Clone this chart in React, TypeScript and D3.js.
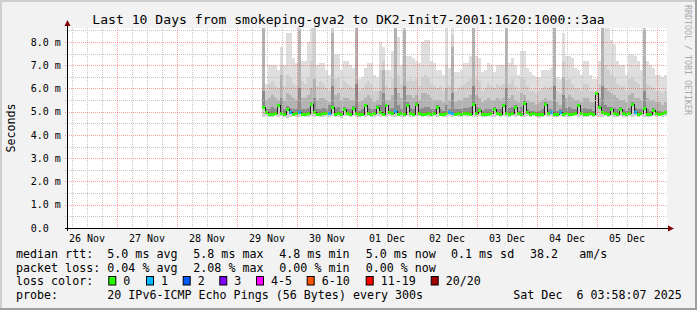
import React from "react";
import * as d3 from "d3";

const W = 697;
const H = 310;
const PL = 67;
const PR = 667;
const PT = 28;
const PB = 228;
const Y_MAX = 8.6;

const END = Date.UTC(2025, 11, 6, 3, 58, 7);
const START = END - 10 * 86400000;
const DATA_START = Date.UTC(2025, 10, 29, 9, 58, 7);
const STEP_MIN = 72;

const TITLE = "Last 10 Days from smokeping-gva2 to DK2-Init7-2001:1620:1000::3aa";

// median rtt per 72-minute bucket (ms)
const medianMs = [
  5.20, 4.95, 4.88, 4.90, 4.93, 5.25, 4.92, 4.88, 5.10, 4.95, 4.90, 4.92, 4.97, 4.90, 4.88,
  4.92, 5.30, 4.95, 4.90, 4.88, 4.93, 4.91, 4.93, 5.20, 4.89, 4.92, 4.87, 5.10, 4.93, 4.90,
  5.15, 4.92, 4.88, 4.90, 5.25, 4.94, 4.90, 4.92, 5.20, 4.96, 4.90, 5.25, 4.97, 4.91, 5.00,
  4.88, 4.92, 4.90, 5.28, 4.94, 4.90, 5.30, 4.93, 4.88, 4.90, 4.92, 4.89, 4.93, 5.20, 4.90,
  4.88, 4.91, 4.95, 4.93, 4.90, 4.92, 4.89, 4.91, 4.93, 4.90, 5.30, 4.92, 5.05, 4.90, 4.87,
  4.90, 4.93, 5.10, 4.92, 4.88, 5.28, 4.93, 4.90, 4.92, 5.20, 4.91, 4.89, 5.35, 4.95, 4.90,
  4.93, 4.90, 4.86, 4.88, 5.30, 4.93, 4.96, 4.90, 4.88, 4.95, 4.90, 4.92, 4.88, 4.90, 4.93,
  5.25, 4.92, 4.90, 4.88, 4.91, 4.89, 5.77, 5.20, 4.95, 4.92, 4.90, 5.10, 4.93, 4.90, 5.10,
  4.92, 4.88, 4.91, 5.30, 4.96, 4.90, 4.92, 5.15, 4.90, 4.88, 5.05, 4.92, 4.90, 4.93, 4.96,
];

// lost pings (of 20) per bucket
const lossPings = [
  0, 0, 0, 0, 0, 0, 0, 0, 0, 1, 0, 0, 1, 0, 0,
  0, 0, 0, 0, 0, 0, 0, 1, 0, 0, 0, 0, 0, 0, 0,
  0, 0, 0, 0, 0, 0, 0, 0, 0, 0, 0, 0, 0, 0, 1,
  0, 0, 0, 0, 0, 0, 0, 0, 0, 0, 0, 0, 0, 0, 0,
  0, 0, 1, 1, 0, 0, 0, 0, 0, 0, 0, 0, 0, 0, 0,
  0, 0, 0, 0, 0, 0, 0, 0, 0, 0, 0, 0, 0, 0, 0,
  0, 0, 0, 0, 0, 0, 1, 0, 0, 1, 0, 0, 0, 0, 0,
  0, 0, 0, 0, 0, 0, 0, 0, 0, 0, 0, 0, 0, 0, 0,
  0, 0, 0, 0, 1, 0, 0, 0, 0, 0, 0, 0, 0, 0, 0,
];

// slowest ping per bucket (ms)
const maxMs = [
  8.6, 6.2, 7.0, 7.0, 7.0, 6.8, 7.8, 7.0, 8.4, 8.4, 7.3, 7.1, 8.6, 7.2, 7.2,
  8.0, 8.7, 8.7, 7.0, 7.1, 7.1, 6.8, 6.6, 8.6, 7.5, 7.5, 6.8, 7.2, 7.2, 7.0,
  6.9, 8.6, 6.4, 6.5, 6.9, 7.1, 7.1, 6.6, 6.5, 8.0, 7.8, 6.8, 6.8, 7.6, 8.6,
  8.2, 7.0, 8.6, 7.4, 7.4, 7.3, 7.2, 7.1, 8.0, 8.1, 8.1, 7.2, 7.1, 6.8, 6.8,
  6.6, 8.7, 6.9, 8.6, 6.7, 6.7, 6.8, 7.1, 7.1, 7.4, 8.6, 7.4, 7.3, 6.7, 6.8,
  7.1, 7.0, 6.7, 7.0, 7.0, 7.0, 8.6, 7.1, 7.3, 7.0, 6.6, 7.6, 7.6, 6.9, 6.7,
  6.6, 6.5, 6.5, 6.8, 6.8, 6.8, 6.9, 8.6, 6.5, 6.4, 8.4, 7.4, 7.4, 7.3, 6.9,
  6.8, 6.6, 7.2, 7.2, 6.6, 6.4, 6.4, 7.2, 8.6, 8.7, 8.7, 8.1, 7.9, 7.2, 7.0,
  7.0, 6.6, 7.5, 7.5, 7.4, 7.2, 6.8, 8.6, 7.2, 7.0, 6.9, 6.6, 6.6, 6.5, 6.6,
];

// 19th of 20 pings
const p95Ms = [
  8.6, 5.9, 6.2, 6.3, 6.1, 6.0, 7.0, 6.1, 6.6, 6.5, 6.2, 6.1, 8.6, 6.3, 6.2,
  6.5, 7.2, 8.6, 6.1, 6.3, 6.2, 6.0, 5.9, 8.6, 6.4, 6.5, 6.0, 6.3, 6.2, 6.1,
  6.0, 8.6, 5.9, 6.0, 6.2, 6.3, 6.2, 5.9, 5.9, 6.8, 7.2, 6.1, 6.0, 6.4, 8.6,
  6.6, 6.2, 8.6, 6.3, 6.4, 6.3, 6.4, 6.1, 6.5, 6.6, 6.5, 6.2, 6.1, 6.0, 6.1,
  5.9, 7.0, 6.1, 8.3, 5.9, 6.0, 6.1, 6.2, 6.3, 6.4, 8.6, 6.4, 6.3, 5.9, 6.0,
  6.2, 6.1, 6.0, 6.2, 6.1, 6.2, 8.6, 6.2, 6.4, 6.1, 5.9, 6.5, 6.4, 6.1, 5.9,
  5.9, 5.8, 5.9, 6.0, 6.1, 6.0, 6.1, 8.6, 5.9, 5.8, 7.2, 6.3, 6.4, 6.2, 6.0,
  6.0, 5.9, 6.2, 6.2, 5.9, 5.9, 5.9, 6.2, 8.6, 7.0, 6.8, 6.6, 6.5, 6.2, 6.1,
  6.1, 5.9, 6.4, 6.5, 6.3, 6.2, 6.0, 8.6, 6.2, 6.1, 6.0, 5.9, 5.9, 5.8, 5.9,
];

// 17th of 20 pings
const p85Ms = [
  8.6, 5.5, 5.6, 5.7, 5.6, 5.5, 6.6, 5.5, 5.8, 5.7, 5.6, 5.5, 8.5, 5.6, 5.6,
  5.7, 6.0, 6.4, 5.5, 5.6, 5.6, 5.5, 5.4, 8.4, 5.7, 5.8, 5.5, 5.6, 5.6, 5.5,
  5.5, 8.6, 5.4, 5.5, 5.6, 5.7, 5.6, 5.4, 5.5, 5.9, 6.8, 5.5, 5.5, 5.7, 8.6,
  5.8, 5.6, 8.5, 5.7, 5.7, 5.6, 5.7, 5.5, 5.8, 5.8, 5.7, 5.6, 5.5, 5.5, 5.5,
  5.4, 6.0, 5.5, 7.8, 5.4, 5.5, 5.5, 5.6, 5.6, 5.7, 8.6, 5.7, 5.6, 5.4, 5.5,
  5.6, 5.5, 5.5, 5.6, 5.5, 5.6, 8.6, 5.6, 5.7, 5.5, 5.4, 5.8, 5.7, 5.5, 5.4,
  5.4, 5.3, 5.4, 5.5, 5.6, 5.5, 5.5, 8.6, 5.4, 5.3, 6.5, 5.6, 5.7, 5.6, 5.5,
  5.5, 5.4, 5.6, 5.6, 5.4, 5.4, 5.8, 5.6, 8.6, 6.0, 5.9, 5.8, 5.7, 5.6, 5.5,
  5.5, 5.4, 5.7, 5.8, 5.6, 5.6, 5.5, 8.5, 5.6, 5.5, 5.5, 5.4, 5.4, 5.3, 5.4,
];

// 14th of 20 pings
const p70Ms = [
  5.9, 5.1, 5.1, 5.2, 5.1, 5.35, 5.6, 5.1, 5.25, 5.15, 5.1, 5.1, 6.0, 5.1, 5.1,
  5.15, 5.4, 5.6, 5.1, 5.1, 5.15, 5.1, 5.3, 6.1, 5.15, 5.2, 5.05, 5.2, 5.1, 5.1,
  5.25, 6.2, 5.05, 5.1, 5.35, 5.15, 5.1, 5.1, 5.3, 5.3, 5.8, 5.35, 5.1, 5.15, 6.0,
  5.3, 5.1, 6.1, 5.4, 5.15, 5.1, 5.4, 5.1, 5.15, 5.2, 5.2, 5.1, 5.1, 5.3, 5.1,
  5.05, 5.3, 5.1, 5.8, 5.1, 5.1, 5.1, 5.15, 5.15, 5.2, 6.1, 5.2, 5.15, 5.05, 5.1,
  5.1, 5.1, 5.2, 5.1, 5.1, 5.35, 6.0, 5.15, 5.2, 5.3, 5.05, 5.2, 5.45, 5.1, 5.05,
  5.05, 5.0, 5.05, 5.1, 5.4, 5.1, 5.1, 6.1, 5.05, 5.1, 5.7, 5.15, 5.2, 5.1, 5.1,
  5.35, 5.1, 5.15, 5.1, 5.1, 5.05, 5.8, 5.3, 6.1, 5.3, 5.2, 5.2, 5.15, 5.1, 5.2,
  5.1, 5.05, 5.15, 5.4, 5.15, 5.1, 5.1, 5.9, 5.1, 5.05, 5.15, 5.05, 5.05, 5.0, 5.05,
];

// fastest ping per bucket
const minMs = [
  4.78, 4.80, 4.76, 4.79, 4.81, 4.77, 4.80, 4.78, 4.75, 4.79, 4.80, 4.77, 4.79, 4.81, 4.76,
  4.79, 4.82, 4.78, 4.80, 4.76, 4.79, 4.81, 4.78, 4.80, 4.77, 4.79, 4.75, 4.80, 4.82, 4.78,
  4.80, 4.77, 4.79, 4.81, 4.78, 4.80, 4.76, 4.79, 4.82, 4.77, 4.80, 4.78, 4.81, 4.79, 4.77,
  4.80, 4.78, 4.76, 4.81, 4.79, 4.77, 4.80, 4.82, 4.78, 4.80, 4.76, 4.79, 4.81, 4.78, 4.80,
  4.77, 4.79, 4.81, 4.78, 4.80, 4.76, 4.79, 4.82, 4.78, 4.80, 4.77, 4.79, 4.81, 4.76, 4.78,
  4.80, 4.79, 4.77, 4.81, 4.78, 4.80, 4.76, 4.79, 4.82, 4.78, 4.80, 4.77, 4.79, 4.81, 4.78,
  4.80, 4.77, 4.75, 4.78, 4.80, 4.79, 4.81, 4.77, 4.78, 4.80, 4.76, 4.79, 4.77, 4.80, 4.81,
  4.78, 4.80, 4.77, 4.79, 4.81, 4.76, 4.80, 4.78, 4.79, 4.81, 4.77, 4.80, 4.78, 4.79, 4.81,
  4.78, 4.76, 4.80, 4.79, 4.81, 4.77, 4.80, 4.78, 4.79, 4.76, 4.80, 4.78, 4.81, 4.79, 4.80,
];

const yMajorTicks = [1, 2, 3, 4, 5, 6, 7, 8];
const yMinorTicks = [0.5, 1.5, 2.5, 3.5, 4.5, 5.5, 6.5, 7.5, 8.5];
const yTickValues = [0, 1, 2, 3, 4, 5, 6, 7, 8];
const yTickLabels = ["0.0", "1.0 m", "2.0 m", "3.0 m", "4.0 m", "5.0 m", "6.0 m", "7.0 m", "8.0 m"];
const dayLabels = ["26 Nov", "27 Nov", "28 Nov", "29 Nov", "30 Nov", "01 Dec", "02 Dec", "03 Dec", "04 Dec", "05 Dec"];

const lossLegendLabels = ["0", "1", "2", "3", "4-5", "6-10", "11-19", "20/20"];
const lossLegendColors = ["#26ff00", "#00b8ff", "#0059ff", "#7e00ff", "#ff00ff", "#ff5500", "#ff0000", "#a10000"];

const rttStats = ["5.0 ms avg", "5.8 ms max", "4.8 ms min", "5.0 ms now", "0.1 ms sd", "38.2", "am/s"];
const lossStats = ["0.04 % avg", "2.08 % max", "0.00 % min", "0.00 % now"];

const MONO = "'DejaVu Sans Mono', monospace";
const PRE = { whiteSpace: "pre" as const };

function lossColor(n: number) {
  if (n <= 0) return lossLegendColors[0];
  if (n === 1) return lossLegendColors[1];
  if (n === 2) return lossLegendColors[2];
  if (n === 3) return lossLegendColors[3];
  if (n <= 5) return lossLegendColors[4];
  if (n <= 10) return lossLegendColors[5];
  if (n <= 19) return lossLegendColors[6];
  return lossLegendColors[7];
}

export default function App() {
  const x = d3.scaleUtc().domain([START, END]).range([PL, PR]);
  const y = d3.scaleLinear().domain([0, Y_MAX]).range([PB, PT]);
  const stepMs = STEP_MIN * 60000;

  const buckets = medianMs.map((m, i) => {
    const t0 = DATA_START + i * stepMs;
    return {
      t0,
      x0: x(t0),
      x1: x(t0 + stepMs),
      median: m,
      loss: lossPings[i],
      max: maxMs[i],
      p95: p95Ms[i],
      p85: p85Ms[i],
      p70: p70Ms[i],
      min: minMs[i],
    };
  });

  const layers = [
    { lo: (b: any) => b.min, hi: (b: any) => b.max, color: "#dedede" },
    { lo: (b: any) => b.min, hi: (b: any) => b.p95, color: "#cfcfcf" },
    { lo: (b: any) => b.median, hi: (b: any) => b.p85, color: "#b3b3b3" },
    { lo: (b: any) => b.median, hi: (b: any) => b.p70, color: "#8c8c8c" },
  ];

  const linePts: [number, number][] = buckets.map((b) => [b.t0, b.median]);
  const last = buckets[buckets.length - 1];
  linePts.push([last.t0 + stepMs, last.median]);
  const medianLine = d3
    .line<[number, number]>()
    .x((d) => x(d[0]))
    .y((d) => y(d[1]))
    .curve(d3.curveStepAfter)(linePts) as string;

  const midnights = d3.utcDay.range(new Date(START), new Date(END));
  const sixHours = d3.utcHour
    .every(6)!
    .range(new Date(START), new Date(END))
    .filter((d) => d.getUTCHours() !== 0);
  const noons = d3.utcDay
    .range(new Date(START - 86400000), new Date(END))
    .map((d) => new Date(d.getTime() + 12 * 3600000))
    .filter((d) => d.getTime() > START && d.getTime() < END);

  const minorGrid = "#c4c4c4";
  const majorGrid = "rgba(255,0,0,0.38)";

  const legendX = [107.3, 193.3, 279.3, 365.7, 451, 530, 579.3];
  const lossBoxX = [108.3, 146, 182.7, 219.3, 256, 306.7, 365.7, 430.7];

  return (
    <svg width={W} height={H} style={{ display: "block", position: "absolute", left: 0, top: 0 }}>
      <defs>
        <clipPath id="plotClip">
          <rect x={PL} y={PT} width={PR - PL} height={PB - PT} />
        </clipPath>
      </defs>
      {/* background & 3d frame */}
      <rect x={0} y={0} width={W} height={H} fill="#f2f2f2" />
      <rect x={0} y={0} width={W} height={2} fill="#cfcfcf" />
      <rect x={0} y={0} width={2} height={H} fill="#cfcfcf" />
      <rect x={0} y={H - 2} width={W} height={2} fill="#9e9e9e" />
      <rect x={W - 2} y={0} width={2} height={H} fill="#9e9e9e" />

      {/* plot canvas */}
      <rect x={PL} y={PT} width={PR - PL} height={PB - PT} fill="#ffffff" />

      {/* smoke */}
      <g clipPath="url(#plotClip)" shapeRendering="crispEdges">
        {layers.map((L, li) => (
          <g key={li} fill={L.color}>
            {buckets.map((b, i) => {
              const yTop = y(Math.min(L.hi(b), Y_MAX + 0.2));
              const yBot = y(L.lo(b));
              return <rect key={i} x={b.x0} y={yTop} width={b.x1 - b.x0} height={Math.max(0, yBot - yTop)} />;
            })}
          </g>
        ))}
      </g>

      {/* median */}
      <g clipPath="url(#plotClip)">
        <path d={medianLine} fill="none" stroke="#202020" strokeWidth={1} shapeRendering="crispEdges" />
        {buckets.map((b, i) => (
          <rect
            key={i}
            x={b.x0}
            y={y(b.median) - 1.5}
            width={b.x1 - b.x0}
            height={3}
            fill={lossColor(b.loss)}
            shapeRendering="crispEdges"
          />
        ))}
      </g>

      {/* grid */}
      <g strokeDasharray="1,1" strokeWidth={1}>
        {yMinorTicks.map((v) => (
          <line key={"hm" + v} x1={PL - 2} x2={PR} y1={Math.round(y(v)) + 0.5} y2={Math.round(y(v)) + 0.5} stroke={minorGrid} />
        ))}
        {sixHours.map((d, i) => (
          <line key={"vm" + i} x1={Math.round(x(d)) + 0.5} x2={Math.round(x(d)) + 0.5} y1={PT} y2={PB + 2} stroke={minorGrid} />
        ))}
        {yMajorTicks.map((v) => (
          <line key={"hM" + v} x1={PL - 2} x2={PR} y1={Math.round(y(v)) + 0.5} y2={Math.round(y(v)) + 0.5} stroke={majorGrid} />
        ))}
        {midnights.map((d, i) => (
          <line key={"vM" + i} x1={Math.round(x(d)) + 0.5} x2={Math.round(x(d)) + 0.5} y1={PT} y2={PB + 2} stroke={majorGrid} />
        ))}
      </g>

      {/* axes */}
      <line x1={PL - 2} x2={PR + 2} y1={PB + 0.5} y2={PB + 0.5} stroke="#000" strokeWidth={1} />
      <polygon points={`${PR + 1},${PB - 2.5} ${PR + 7},${PB + 0.5} ${PR + 1},${PB + 3.5}`} fill="#800000" />
      <line x1={PL + 0.5} x2={PL + 0.5} y1={PB + 3} y2={PT - 3} stroke="#000" strokeWidth={1} />
      <polygon points={`${PL - 2.5},${PT - 2} ${PL + 0.5},${PT - 8} ${PL + 3.5},${PT - 2}`} fill="#800000" />

      {/* y tick labels */}
      <g fontFamily={MONO} fontSize={10} fill="#000">
        {yTickValues.map((v, i) => (
          <text key={v} x={30.7} y={y(v) + 3.6} style={PRE}>
            {yTickLabels[i]}
          </text>
        ))}
      </g>

      {/* x tick labels */}
      <g fontFamily={MONO} fontSize={10} fill="#000" textAnchor="middle">
        {noons.map((d, i) => (
          <text key={i} x={x(d)} y={241.5}>
            {dayLabels[i]}
          </text>
        ))}
      </g>

      {/* title */}
      <text x={W / 2} y={24} textAnchor="middle" fontFamily={MONO} fontSize={13.1} fill="#000">
        {TITLE}
      </text>

      {/* y axis label */}
      <text transform={`translate(15,${(PT + PB) / 2}) rotate(-90)`} textAnchor="middle" fontFamily={MONO} fontSize={11.66} fill="#000">
        Seconds
      </text>

      {/* watermark */}
      <text transform="translate(685,5) rotate(90)" fontFamily={MONO} fontSize={8.3} fill="#a8a8a8">
        RRDTOOL / TOBI OETIKER
      </text>

      {/* legend */}
      <g fontFamily={MONO} fontSize={11.66} fill="#000">
        <text x={16} y={258} style={PRE}>median rtt:</text>
        {rttStats.map((s, i) => (
          <text key={"r" + i} x={legendX[i]} y={258} style={PRE}>
            {s}
          </text>
        ))}
        <text x={16} y={271.6} style={PRE}>packet loss:</text>
        {lossStats.map((s, i) => (
          <text key={"l" + i} x={legendX[i]} y={271.6} style={PRE}>
            {s}
          </text>
        ))}
        <text x={16} y={285.2} style={PRE}>loss color:</text>
        {lossLegendLabels.map((s, i) => (
          <g key={"c" + i}>
            <rect x={lossBoxX[i] + 0.5} y={276.5} width={7} height={8.5} fill={lossLegendColors[i]} stroke="#000" strokeWidth={1} />
            <text x={lossBoxX[i] + 15} y={285.2}>
              {s}
            </text>
          </g>
        ))}
        <text x={16} y={298.8} style={PRE}>probe:</text>
        <text x={107.3} y={298.8} style={PRE}>20 IPv6-ICMP Echo Pings (56 Bytes) every 300s</text>
        <text x={513.3} y={298.8} style={PRE}>{"Sat Dec  6 03:58:07 2025"}</text>
      </g>
    </svg>
  );
}
